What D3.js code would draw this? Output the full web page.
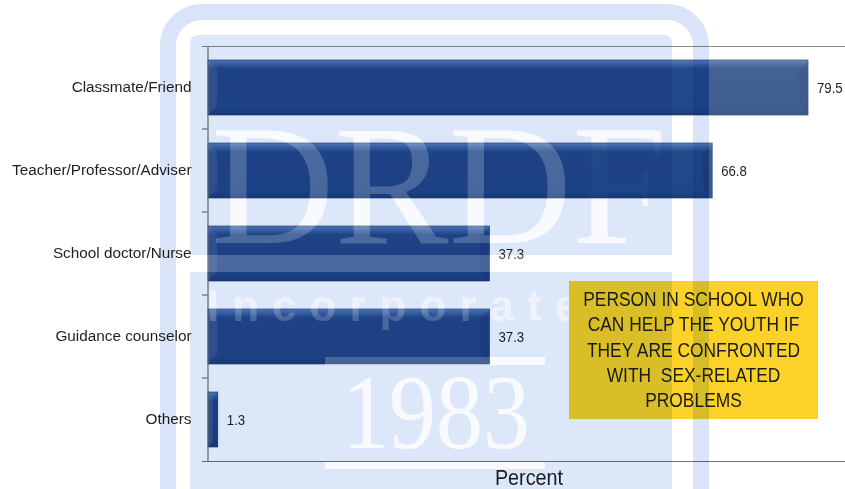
<!DOCTYPE html>
<html>
<head>
<meta charset="utf-8">
<script src="https://cdn.jsdelivr.net/npm/d3@7"></script>
<style>
  html, body { margin: 0; padding: 0; background: #fff; }
  svg { display: block; font-family: "Liberation Sans", Arial, sans-serif; }
</style>
</head>
<body>
<div id="chart"></div>
<script>
// chart data
const categories = ['Classmate/Friend', 'Teacher/Professor/Adviser', 'School doctor/Nurse', 'Guidance counselor', 'Others'];
const values = [79.5, 66.8, 37.3, 37.3, 1.3];
const xTitle = 'Percent';
const noteLines = ['PERSON IN SCHOOL WHO', 'CAN HELP THE YOUTH IF', 'THEY ARE CONFRONTED', 'WITH  SEX-RELATED', 'PROBLEMS'];
const watermarkTexts = ['DRDF', 'Incorporated', '1983'];

const width = 845;
const height = 489;

const svg = d3.select('#chart').append('svg')
    .attr('width', width)
    .attr('height', height);

const defs = svg.append('defs');

// bar gradient (bevelled look)
const grad = defs.append('linearGradient')
    .attr('id', 'barGrad')
    .attr('x1', 0).attr('y1', 0).attr('x2', 0).attr('y2', 1);
grad.append('stop').attr('offset', '0%').attr('stop-color', '#5c80b6');
grad.append('stop').attr('offset', '7%').attr('stop-color', '#3d68a6');
grad.append('stop').attr('offset', '16%').attr('stop-color', '#23498a');
grad.append('stop').attr('offset', '88%').attr('stop-color', '#214788');
grad.append('stop').attr('offset', '100%').attr('stop-color', '#1b3d78');

defs.append('clipPath').attr('id', 'leftOfBox')
    .append('rect').attr('x', 0).attr('y', 0).attr('width', 569).attr('height', height);

svg.append('rect').attr('width', width).attr('height', height).attr('fill', '#fff');

// scales
const x = d3.scaleLinear()
    .domain([0, 84.4])
    .range([208, 845]);

const y = d3.scaleBand()
    .domain(categories)
    .range([46, 461])
    .paddingInner(0.337)
    .paddingOuter(0.1685);

const data = categories.map((c, i) => ({ label: c, value: values[i] }));

// bars
const bars = svg.append('g');
bars.selectAll('.bar')
    .data(data)
    .enter()
    .append('rect')
    .attr('class', 'bar')
    .attr('x', x(0))
    .attr('y', d => y(d.label))
    .attr('width', d => x(d.value) - x(0))
    .attr('height', y.bandwidth())
    .attr('fill', 'url(#barGrad)')
    .attr('stroke', '#1a3a70')
    .attr('stroke-width', 0.6);

// left bevel
bars.selectAll('.bevel-l')
    .data(data)
    .enter()
    .append('polygon')
    .attr('points', d => {
        const x0 = x(0), x1 = x(d.value), y0 = y(d.label), y1 = y0 + y.bandwidth();
        const b = Math.min(9, (x1 - x0) / 2);
        return [[x0, y0], [x0 + b, y0 + b], [x0 + b, y1 - b], [x0, y1]].join(' ');
    })
    .attr('fill', '#ffffff')
    .attr('opacity', 0.08);

// right bevel
bars.selectAll('.bevel-r')
    .data(data)
    .enter()
    .append('polygon')
    .attr('points', d => {
        const x0 = x(0), x1 = x(d.value), y0 = y(d.label), y1 = y0 + y.bandwidth();
        const b = Math.min(9, (x1 - x0) / 2);
        return [[x1, y0], [x1 - b, y0 + b], [x1 - b, y1 - b], [x1, y1]].join(' ');
    })
    .attr('fill', '#0a1e44')
    .attr('opacity', 0.15);

// part of bars outside the watermark looks greyer
bars.selectAll('.outside')
    .data(data.filter(d => x(d.value) > 709))
    .enter()
    .append('rect')
    .attr('x', 709)
    .attr('y', d => y(d.label))
    .attr('width', d => x(d.value) - 709)
    .attr('height', y.bandwidth())
    .attr('fill', '#8e99a8')
    .attr('opacity', 0.3);

// frame lines
svg.append('line')
    .attr('x1', 202).attr('x2', width)
    .attr('y1', 46.5).attr('y2', 46.5)
    .attr('stroke', '#8c8c8c').attr('stroke-width', 1.2);

svg.append('line')
    .attr('x1', 202).attr('x2', width)
    .attr('y1', 461.5).attr('y2', 461.5)
    .attr('stroke', '#6f6f6f').attr('stroke-width', 1.2);

// y axis
const yAxis = d3.axisLeft(y).tickSize(0).tickPadding(16);
const yG = svg.append('g')
    .attr('transform', 'translate(207.5,0)')
    .call(yAxis);
yG.select('.domain').attr('stroke', '#6f6f6f').attr('stroke-width', 1.2);
yG.selectAll('text')
    .attr('font-family', '"Liberation Sans", Arial, sans-serif')
    .style('font-size', '15.3px')
    .attr('fill', '#1f1f1f');

// boundary ticks between categories
svg.append('g').selectAll('line')
    .data(categories.slice(1))
    .enter()
    .append('line')
    .attr('x1', 202).attr('x2', 207.5)
    .attr('y1', d => y(d) - y.step() * y.paddingInner() / 2)
    .attr('y2', d => y(d) - y.step() * y.paddingInner() / 2)
    .attr('stroke', '#6f6f6f').attr('stroke-width', 1.2);

// value labels
svg.append('g').selectAll('text')
    .data(data)
    .enter()
    .append('text')
    .attr('transform', d => `translate(${x(d.value) + 9},${y(d.label) + y.bandwidth() / 2}) scale(0.88,1)`)
    .attr('dy', '0.36em')
    .style('font-size', '15px')
    .attr('fill', '#1f1f1f')
    .text(d => d.value.toFixed(1));

// x axis title
svg.append('text')
    .attr('transform', 'translate(529,485) scale(0.9,1)')
    .attr('text-anchor', 'middle')
    .style('font-size', '22px')
    .attr('fill', '#1f1f1f')
    .text(xTitle);

// note box
svg.append('rect')
    .attr('x', 569).attr('y', 281)
    .attr('width', 249).attr('height', 138)
    .attr('fill', '#fcd228');

const note = svg.append('g');
noteLines.forEach((line, i) => {
    note.append('text')
        .attr('transform', `translate(693.5,${306 + i * 25.3}) scale(0.87,1)`)
        .attr('text-anchor', 'middle')
        .style('font-size', '20px')
        .style('white-space', 'pre')
        .attr('fill', '#1c1c1c')
        .text(line);
});

// watermark (multiplied over the chart)
const wm = svg.append('g').style('mix-blend-mode', 'multiply');
wm.append('rect')
    .attr('x', 168).attr('y', 12)
    .attr('width', 533).attr('height', 540)
    .attr('rx', 34)
    .attr('fill', 'none')
    .attr('stroke', '#d9e4f9')
    .attr('stroke-width', 16);
wm.append('rect')
    .attr('x', 190).attr('y', 35)
    .attr('width', 482).attr('height', 480)
    .attr('rx', 8)
    .attr('fill', '#dde7fa');
// white band between logo sections
wm.append('rect')
    .attr('x', 190).attr('y', 255)
    .attr('width', 482).attr('height', 17)
    .attr('fill', '#ffffff');

function watermarkLetters(g, fill, softFill) {
    g.append('text')
        .attr('x', 211).attr('y', 243)
        .attr('textLength', 456)
        .attr('lengthAdjust', 'spacingAndGlyphs')
        .attr('font-family', '"Liberation Serif", "DejaVu Serif", serif')
        .style('font-size', '171px')
        .attr('fill', fill)
        .text(watermarkTexts[0]);
    g.append('text')
        .attr('x', 207).attr('y', 321)
        .attr('textLength', 412)
        .attr('lengthAdjust', 'spacing')
        .attr('font-weight', 'bold')
        .style('font-size', '44px')
        .attr('fill', softFill)
        .text(watermarkTexts[1]);
    g.append('text')
        .attr('x', 342).attr('y', 448)
        .attr('textLength', 188)
        .attr('lengthAdjust', 'spacingAndGlyphs')
        .attr('font-family', '"Liberation Serif", "DejaVu Serif", serif')
        .style('font-size', '106px')
        .attr('fill', fill)
        .text(watermarkTexts[2]);
    g.append('rect')
        .attr('x', 325).attr('y', 357)
        .attr('width', 220).attr('height', 8)
        .attr('fill', fill);
    g.append('rect')
        .attr('x', 325).attr('y', 462)
        .attr('width', 220).attr('height', 7)
        .attr('fill', fill);
}
watermarkLetters(wm, '#f7f9fe', '#eaf0fc');

// keep the note box evenly tinted where it covers the watermark
wm.append('rect')
    .attr('x', 569).attr('y', 281)
    .attr('width', 103).attr('height', 138)
    .attr('fill', '#dde7fa');

// letters show lighter through the bars
const wmLight = svg.append('g')
    .attr('clip-path', 'url(#leftOfBox)')
    .attr('opacity', 0.18);
watermarkLetters(wmLight, '#ffffff', '#ffffff');
wmLight.append('rect')
    .attr('x', 190).attr('y', 255)
    .attr('width', 482).attr('height', 17)
    .attr('fill', '#ffffff');
</script>
</body>
</html>
